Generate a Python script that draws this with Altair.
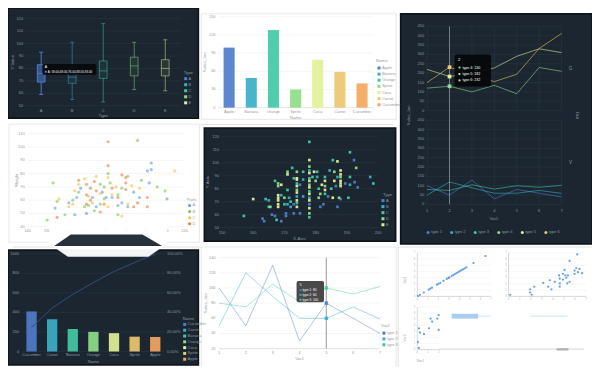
import altair as alt
import pandas as pd

FONT = "Liberation Sans"
DARK_FILL = "#1b2630"
DARK_STROKE = "#0c1217"
DARK_GRID = "#2a3642"
DARK_TEXT = "#8a96a1"
LIGHT_GRID = "#efefef"
LIGHT_TEXT = "#9b9b9b"
CARD_LINE = "#e2e2e2"
PALETTE = ["#4f7ccc", "#3aafc7", "#42c9a4", "#8fdc88", "#e3f097", "#ebc76f", "#f4a65e"]
PART_COLORS = ["#5b9be0", "#78c850", "#f4c048", "#ec7a3e"]

# ---------------- data ----------------
box_types = ["A", "B", "C", "D", "E"]
box_min = [59, 55, 53, 63, 62]
box_q1 = [69, 68, 72, 74, 74]
box_med = [76, 73, 78, 82, 80]
box_q3 = [83, 80, 86, 89, 87]
box_max = [93, 101, 116, 101, 103]

names = ["Apple", "Banana", "Orange", "Sprite", "Coca", "Carrot", "Cucumber"]
sales_jan = [99, 49, 128, 30, 79, 59, 40]

pareto_names = ["Cucumber", "Carrot", "Banana", "Orange", "Coca", "Sprite", "Apple"]
pareto_sales = [410, 330, 231, 201, 188, 152, 149]

var1 = [1, 2, 3, 4, 5, 6, 7]
type_1 = [100, 50, 130, 30, 80, 60, 40]
type_2 = [50, 120, 89, 60, 60, 75, 59]
type_3 = [80, 75, 105, 82, 100, 92, 102]
type_4 = [120, 130, 100, 135, 90, 230, 210]
type_5 = [220, 182, 200, 228, 290, 330, 310]
type_6 = [150, 232, 190, 155, 194, 332, 412]
type_names = ["type 1", "type 2", "type 3", "type 4", "type 5", "type 6"]

parts = ["A", "B", "C", "D"]
p4_A_h = [154, 164, 165, 167, 172, 173, 175, 180, 183, 188, 191, 197, 201, 203, 203, 211, 202, 170, 161, 178, 194, 186]
p4_A_w = [54, 49, 62, 69, 69, 62, 55, 62, 62, 58, 55, 62, 82, 88, 83, 61, 73, 50, 58, 66, 66, 56]
p4_B_h = [153, 155, 159, 150, 169, 177, 179, 182, 186, 188, 196, 198, 206, 210, 171, 174, 177, 179, 186, 166, 181, 191, 163]
p4_B_w = [73, 59, 49, 45, 55, 72, 70, 73, 64, 69, 105, 75, 70, 67, 56, 52, 57, 61, 49, 66, 80, 78, 60]
p4_C_h = [156, 161, 164, 169, 172, 177, 181, 181, 183, 188, 191, 197, 215, 163, 173, 166, 175, 193, 185, 171]
p4_C_w = [61, 55, 67, 76, 69, 65, 77, 55, 64, 48, 57, 69, 82, 57, 58, 72, 78, 71, 70, 63]
p4_D_h = [155, 166, 170, 170, 175, 181, 181, 186, 190, 190, 190, 194, 201, 201, 170, 179, 177, 174, 183, 188, 172, 196]
p4_D_w = [47, 75, 72, 64, 67, 104, 86, 62, 77, 73, 68, 55, 62, 55, 57, 57, 51, 74, 69, 79, 60, 58]

p5_A = [(163, 57), (163.5, 55), (167, 59), (169, 55), (170.5, 61), (170.5, 59), (173, 68), (173, 61), (175, 61),
        (175, 83), (178, 68), (181.5, 66), (182.5, 68), (184, 74), (186.5, 82), (187, 66), (188, 72), (189.5, 84),
        (192.3, 102), (192.5, 85), (193.5, 81), (166, 60)]
p5_B = [(165, 71), (169, 75), (171, 68), (171.5, 73), (172, 66), (174, 74), (176, 87), (176, 74), (178, 94),
        (178, 73), (180.5, 89), (184.5, 94), (187, 89), (191, 83), (197.5, 89)]
p5_C = [(157, 59), (164, 72), (165, 66), (167, 86), (167.5, 56), (170, 68), (171, 79), (172, 70), (172.5, 96),
        (173, 88), (174, 84), (174, 69), (176, 93), (178, 116), (178, 88), (178, 78), (178, 58), (179, 89),
        (180.5, 93), (181, 80), (183, 89), (183, 76), (185, 80), (185.5, 102), (190.5, 73), (191, 89), (191, 108),
        (198.5, 84)]
p5_D = [(165.5, 66), (168, 84), (168, 82), (170, 73), (171, 93), (174, 93), (174, 79), (178, 97), (178, 83),
        (178, 61), (180, 86), (181, 73), (181.5, 76), (183, 82), (186, 93), (187.5, 73), (188, 89), (193, 96)]
p5_E = [(160, 72), (168, 75), (168, 73), (168, 71), (168, 68), (168, 66), (171, 91), (174, 88), (174, 87),
        (174, 82), (174, 77), (174, 71), (174, 66), (178, 102), (178, 92), (178, 86), (178, 81), (178, 76),
        (178, 71), (178, 65), (179.5, 93), (182, 83), (183, 86), (183, 79), (185.5, 73), (186, 86), (187, 101),
        (188, 94), (188, 91), (188, 86), (188, 84), (188, 82), (169, 83)]

tl_v = [0.06, 0.25, 0.62, 1.09, 1.24, 1.40, 1.87, 2.02, 2.18, 2.49, 2.80, 2.96, 3.05, 3.27, 3.42, 3.58, 3.73,
        3.89, 4.04, 4.20, 4.35, 4.51, 4.67, 5.35, 6.47]
tr_x = [0.15, 1.94, 1.94, 2.09, 2.32, 3.13, 3.57, 3.72, 3.87, 4.17, 4.56, 4.62, 4.62, 4.62, 4.91, 4.91, 5.06,
        5.12, 5.21, 5.30, 5.36, 5.51, 5.51, 5.96, 5.96, 6.11, 6.20, 6.26, 6.40, 6.64]
tr_y = [0.26, 1.14, 0.62, 0.26, 1.56, 2.18, 1.56, 2.59, 1.14, 2.33, 3.37, 2.85, 2.07, 1.56, 3.63, 2.70, 4.25,
        3.37, 3.01, 2.07, 3.37, 5.70, 2.33, 4.15, 3.63, 4.56, 6.74, 3.89, 4.41, 3.73]
bl_x = [0.15, 0.06, 0.15, 0.25, 0.62, 1.08, 1.23, 1.38, 1.85, 1.98, 1.98]
bl_y = [0.27, 1.24, 3.5, 2.8, 2.53, 3.5, 5.1, 4.58, 5.1, 5.65, 3.23]

# ---------------- layout mapping (collage coords -> chart px) ----------------
W, H = 584, 359
SX, SY = W / 595.0, H / 371.0


def mx(x):
    return (x - 3) * SX


def my(y):
    return (y - 4) * SY


ONE = pd.DataFrame({"k": [0]})
L = []


def R(x0, y0, x1, y1, **mk):
    L.append(alt.Chart(ONE).mark_rect(**mk).encode(
        x=alt.value(mx(x0)), x2=alt.value(mx(x1)), y=alt.value(my(y0)), y2=alt.value(my(y1))))


def HL(x0, x1, y, color, w=1.0):
    L.append(alt.Chart(ONE).mark_rule(color=color, strokeWidth=w).encode(
        x=alt.value(mx(x0)), x2=alt.value(mx(x1)), y=alt.value(my(y))))


def VL(x, y0, y1, color, w=1.0):
    L.append(alt.Chart(ONE).mark_rule(color=color, strokeWidth=w).encode(
        x=alt.value(mx(x)), y=alt.value(my(y0)), y2=alt.value(my(y1))))


def T(s, x, y, color, size=4.0, angle=0, align="center", weight="normal"):
    L.append(alt.Chart(ONE).mark_text(text=s, fontSize=size, color=color, angle=angle, align=align,
                                      baseline="middle", font=FONT, fontWeight=weight).encode(
        x=alt.value(mx(x)), y=alt.value(my(y))))


def DOT(x, y, color, size=4, shape="circle"):
    L.append(alt.Chart(ONE).mark_point(filled=True, color=color, size=size, shape=shape, opacity=1).encode(
        x=alt.value(mx(x)), y=alt.value(my(y))))


def qx(domain, x0, x1):
    return alt.Scale(domain=domain, range=[mx(x0), mx(x1)], nice=False, zero=False)


def qy(domain, ybottom, ytop):
    return alt.Scale(domain=domain, range=[my(ybottom), my(ytop)], nice=False, zero=False)


def bx(domain, x0, x1, pi, po):
    return alt.Scale(type="band", domain=domain, range=[mx(x0), mx(x1)], paddingInner=pi, paddingOuter=po)


def ygrid(vals, sc, x0, x1, color, w=0.6):
    L.append(alt.Chart(pd.DataFrame({"v": vals})).mark_rule(color=color, strokeWidth=w).encode(
        y=alt.Y("v:Q", scale=sc, axis=None), x=alt.value(mx(x0)), x2=alt.value(mx(x1))))


def xgrid(vals, sc, y0, y1, color, w=0.6):
    L.append(alt.Chart(pd.DataFrame({"v": vals})).mark_rule(color=color, strokeWidth=w).encode(
        x=alt.X("v:Q", scale=sc, axis=None), y=alt.value(my(y0)), y2=alt.value(my(y1))))


def ylabels(vals, sc, xr, color, size=4.0, labels=None, align="right"):
    labels = labels or [str(v) for v in vals]
    L.append(alt.Chart(pd.DataFrame({"v": vals, "t": labels})).mark_text(
        align=align, baseline="middle", fontSize=size, color=color, font=FONT).encode(
        y=alt.Y("v:Q", scale=sc, axis=None), x=alt.value(mx(xr)), text="t:N"))


def xlabels(vals, sc, y, color, size=4.0, typ="Q", labels=None):
    labels = labels or [str(v) for v in vals]
    L.append(alt.Chart(pd.DataFrame({"v": vals, "t": labels})).mark_text(
        align="center", baseline="middle", fontSize=size, color=color, font=FONT).encode(
        x=alt.X(f"v:{typ}", scale=sc, axis=None), y=alt.value(my(y)), text="t:N"))


def vlegend(cats, colors, title, tx, ty, sx, y0, y1, tcol, shape="square", size=9):
    if title:
        T(title, tx, ty, tcol, size=4.3, align="left")
    sc = alt.Scale(type="point", domain=cats, range=[my(y0), my(y1)], padding=0)
    d = pd.DataFrame({"c": cats})
    L.append(alt.Chart(d).mark_point(filled=True, shape=shape, size=size, opacity=1).encode(
        y=alt.Y("c:N", scale=sc, axis=None), x=alt.value(mx(sx)),
        color=alt.Color("c:N", scale=alt.Scale(domain=cats, range=colors), legend=None)))
    L.append(alt.Chart(d).mark_text(align="left", baseline="middle", fontSize=4, color=tcol, font=FONT).encode(
        y=alt.Y("c:N", scale=sc, axis=None), x=alt.value(mx(sx + 3)), text="c:N"))


def long_lines(series, keys):
    rows = []
    for k, vals in zip(keys, series):
        for v, val in zip(var1, vals):
            rows.append({"v": v, "val": val, "tp": k})
    return pd.DataFrame(rows)


# =============== cards ===============
R(3, 4, 197, 118, fill=DARK_FILL, stroke=DARK_STROKE, strokeWidth=1.5)          # P1
R(200, 10, 398.5, 119, fill="white", stroke=CARD_LINE, strokeWidth=0.8)         # P2
R(403, 10, 598, 248, fill=DARK_FILL, stroke=DARK_STROKE, strokeWidth=1.5)       # P3
R(4, 124, 198, 246, fill="white", stroke=CARD_LINE, strokeWidth=0.8)            # P4
HL(199, 395, 124.5, CARD_LINE)
R(203, 128, 398, 245, fill=DARK_FILL, stroke=DARK_STROKE, strokeWidth=1.5)      # P5
HL(8, 199, 251, CARD_LINE)
R(3, 254, 197, 373, fill=DARK_FILL, stroke=DARK_STROKE, strokeWidth=1.5)        # P6
R(200, 251, 398.5, 380, fill="white", stroke=CARD_LINE, strokeWidth=0.8)        # P7
HL(400, 600, 251, CARD_LINE)                                                    # P8
VL(400.5, 251, 380, CARD_LINE)

# =============== P1: dark box plot ===============
bdf = pd.DataFrame({"bt": box_types, "lo": box_min, "q1": box_q1, "med": box_med, "q3": box_q3, "hi": box_max})
sx1 = bx(box_types, 21, 179, 0.75, 0.375)
sy1 = qy([50, 120], 105, 15)
ticks1 = list(range(50, 121, 10))
ygrid(ticks1, sy1, 21, 179, DARK_GRID)
ylabels(ticks1, sy1, 18.5, DARK_TEXT)
xlabels(box_types, sx1, 110.5, DARK_TEXT, typ="N")
T("Type", 100, 116, DARK_TEXT, size=4.3)
T("Y-Value", 8, 60, DARK_TEXT, size=4.3, angle=270)
bsc = alt.Scale(domain=box_types, range=PALETTE[:5])
hl = alt.condition(alt.datum.bt == "A", alt.value(0.95), alt.value(0.5))
for a, b in [("lo", "q1"), ("q3", "hi")]:
    L.append(alt.Chart(bdf).mark_rule(strokeWidth=1).encode(
        x=alt.X("bt:N", scale=sx1, axis=None), y=alt.Y(f"{a}:Q", scale=sy1, axis=None), y2=f"{b}:Q",
        stroke=alt.Stroke("bt:N", scale=bsc, legend=None), strokeOpacity=hl))
for f in ["lo", "hi"]:
    L.append(alt.Chart(bdf).mark_tick(size=4, thickness=1).encode(
        x=alt.X("bt:N", scale=sx1, axis=None), y=alt.Y(f"{f}:Q", scale=sy1, axis=None),
        color=alt.Color("bt:N", scale=bsc, legend=None), opacity=hl))
L.append(alt.Chart(bdf).mark_rect(strokeWidth=1).encode(
    x=alt.X("bt:N", scale=sx1, axis=None), y=alt.Y("q1:Q", scale=sy1, axis=None), y2="q3:Q",
    fill=alt.Fill("bt:N", scale=bsc, legend=None), stroke=alt.Stroke("bt:N", scale=bsc, legend=None),
    fillOpacity=alt.condition(alt.datum.bt == "A", alt.value(0.55), alt.value(0.08)), strokeOpacity=hl))
L.append(alt.Chart(bdf).mark_tick(size=8, thickness=1).encode(
    x=alt.X("bt:N", scale=sx1, axis=None), y=alt.Y("med:Q", scale=sy1, axis=None),
    color=alt.Color("bt:N", scale=bsc, legend=None), opacity=hl))
vlegend(box_types, PALETTE[:5], "Type", 182, 71, 184, 77, 102, DARK_TEXT)
tipA = "A:  " + ",".join(f"{v:.2f}" for v in [box_min[0], box_q1[0], box_med[0], box_q3[0], box_max[0]])
R(38, 62, 93, 73, fill="#07090c", opacity=0.93, cornerRadius=1.5)
T("A", 40.5, 65, "white", size=3.5, align="left")
DOT(41.5, 69.8, PALETTE[0], size=4, shape="square")
T(tipA, 43.5, 69.8, "white", size=3, align="left")

# =============== P2: light bar chart ===============
sx2 = bx(names, 217, 375, 0.5, 0.25)
sy2 = qy([0, 150], 107, 13)
ticks2 = [0, 30, 60, 90, 120, 150]
ygrid(ticks2, sy2, 217, 375, LIGHT_GRID)
HL(217, 375, 107, "#e4e4e4", 0.8)
bar_df = pd.DataFrame({"nm": names, "sales": sales_jan})
L.append(alt.Chart(bar_df).mark_bar(opacity=0.92).encode(
    x=alt.X("nm:N", scale=sx2, axis=None), y=alt.Y("sales:Q", scale=sy2, axis=None),
    color=alt.Color("nm:N", scale=alt.Scale(domain=names, range=PALETTE), legend=None)))
ylabels(ticks2, sy2, 214.5, LIGHT_TEXT)
xlabels(names, sx2, 111.5, LIGHT_TEXT, typ="N")
T("Name", 296, 118, LIGHT_TEXT, size=4.3)
T("Sales_Jan", 204, 60, LIGHT_TEXT, size=4.3, angle=270)
vlegend(names, PALETTE, "Name", 378, 59, 381, 66, 104, LIGHT_TEXT)

# =============== P3: dark faceted lines ===============
sx3 = qx([1, 7], 430, 567)
sy3t = qy([0, 450], 110, 23)
sy3b = qy([0, 450], 207, 120)
ticks3 = list(range(0, 451, 50))
for sc, (ya, yb) in [(sy3t, (23, 110)), (sy3b, (120, 207))]:
    ygrid(ticks3, sc, 430, 567, DARK_GRID)
    xgrid(var1, sx3, ya, yb, DARK_GRID)
    ylabels(ticks3, sc, 427, DARK_TEXT)
xlabels(var1, sx3, 214, DARK_TEXT)
T("Var1", 498, 222, DARK_TEXT, size=4.3)
T("Sales_Jan", 412, 115, DARK_TEXT, size=4.3, angle=270)
T("G", 576, 67, DARK_TEXT, size=4.5)
T("V", 576, 164, DARK_TEXT, size=4.5)
T("Unit", 583, 115, DARK_TEXT, size=4.2, angle=90)
tsc = alt.Scale(domain=type_names, range=PALETTE[:6])
top3 = long_lines([type_4, type_5, type_6], type_names[3:])
bot3 = long_lines([type_1, type_2, type_3], type_names[:3])
for d, sc in [(top3, sy3t), (bot3, sy3b)]:
    L.append(alt.Chart(d).mark_line(strokeWidth=1, opacity=0.58).encode(
        x=alt.X("v:Q", scale=sx3, axis=None), y=alt.Y("val:Q", scale=sc, axis=None),
        stroke=alt.Stroke("tp:N", scale=tsc, legend=None)))
L.append(alt.Chart(pd.DataFrame({"v": [2]})).mark_rule(color="#8b959d", strokeWidth=0.8).encode(
    x=alt.X("v:Q", scale=sx3, axis=None), y=alt.value(my(23)), y2=alt.value(my(207))))
L.append(alt.Chart(top3[top3["v"] == 2]).mark_point(filled=True, shape="square", size=14, opacity=1).encode(
    x=alt.X("v:Q", scale=sx3, axis=None), y=alt.Y("val:Q", scale=sy3t, axis=None),
    fill=alt.Fill("tp:N", scale=tsc, legend=None)))
leg3 = alt.Scale(type="point", domain=type_names, range=[mx(431), mx(551)], padding=0)
ld = pd.DataFrame({"c": type_names})
L.append(alt.Chart(ld).mark_point(filled=True, shape="circle", size=9, opacity=1).encode(
    x=alt.X("c:N", scale=leg3, axis=None), y=alt.value(my(236)),
    color=alt.Color("c:N", scale=tsc, legend=None)))
L.append(alt.Chart(ld).mark_text(align="left", baseline="middle", fontSize=4, color=DARK_TEXT, font=FONT,
                                 dx=3 * SX).encode(
    x=alt.X("c:N", scale=leg3, axis=None), y=alt.value(my(236)), text="c:N"))
R(458, 52, 495, 85, fill="#06080a", opacity=0.94, cornerRadius=2)
T("2", 461.5, 57.5, "white", size=4, align="left")
for i, (k, vals) in enumerate([(4, type_4), (5, type_5), (6, type_6)]):
    yy = 65.5 + 6.7 * i
    DOT(463, yy, PALETTE[k - 1], size=5)
    T(f"type {k}:  {vals[1]}", 466, yy, "white", size=3.6, align="left")

# =============== P4: light scatter ===============
sx4 = qx([140, 220], 23, 183)
sy4 = qy([40, 110], 230, 134)
ticks4y = list(range(40, 111, 10))
ticks4x = list(range(140, 221, 10))
ygrid(ticks4y, sy4, 23, 183, LIGHT_GRID)
ylabels(ticks4y, sy4, 20, LIGHT_TEXT)
xlabels(ticks4x, sx4, 234.5, LIGHT_TEXT)
T("Weight", 12, 182, LIGHT_TEXT, size=4.3, angle=270)
p4df = pd.concat([
    pd.DataFrame({"h": p4_A_h, "w": p4_A_w, "pt": "A"}),
    pd.DataFrame({"h": p4_B_h, "w": p4_B_w, "pt": "B"}),
    pd.DataFrame({"h": p4_C_h, "w": p4_C_w, "pt": "C"}),
    pd.DataFrame({"h": p4_D_h, "w": p4_D_w, "pt": "D"}),
])
L.append(alt.Chart(p4df).mark_circle(size=10, opacity=0.6).encode(
    x=alt.X("h:Q", scale=sx4, axis=None), y=alt.Y("w:Q", scale=sy4, axis=None),
    color=alt.Color("pt:N", scale=alt.Scale(domain=parts, range=PART_COLORS), legend=None)))
vlegend(parts, PART_COLORS, "Parts", 185, 202, 188, 208, 227, LIGHT_TEXT, shape="circle")

# =============== P5: dark scatter ===============
sx5 = qx([150, 200], 221, 380)
sy5 = qy([50, 120], 231, 137)
ticks5y = list(range(50, 121, 10))
ticks5x = list(range(150, 201, 10))
ygrid(ticks5y, sy5, 221, 380, DARK_GRID)
ylabels(ticks5y, sy5, 218, DARK_TEXT)
xlabels(ticks5x, sx5, 236.5, DARK_TEXT)
T("X-Axis", 300, 243, DARK_TEXT, size=4.3)
T("Y-Axis", 207, 184, DARK_TEXT, size=4.3, angle=270)
p5df = pd.concat([pd.DataFrame({"x": [p[0] for p in pts], "y": [p[1] for p in pts], "ty": t})
                  for t, pts in zip(box_types, [p5_A, p5_B, p5_C, p5_D, p5_E])])
L.append(alt.Chart(p5df).mark_square(size=7, opacity=0.95).encode(
    x=alt.X("x:Q", scale=sx5, axis=None), y=alt.Y("y:Q", scale=sy5, axis=None),
    color=alt.Color("ty:N", scale=alt.Scale(domain=box_types, range=PALETTE[:5]), legend=None)))
vlegend(box_types, PALETTE[:5], "Type", 385, 197, 385, 203, 228, DARK_TEXT)

# =============== P6: dark pareto ===============
sx6 = bx(pareto_names, 17, 163, 0.5, 0.225)
sy6 = qy([0, 1000], 359, 258)
sy6r = qy([0, 1], 359, 258)
ticks6 = [0, 200, 400, 600, 800, 1000]
ygrid(ticks6, sy6, 17, 163, DARK_GRID)
ylabels(ticks6, sy6, 14.5, DARK_TEXT)
pct = [0, 0.2, 0.4, 0.6, 0.8, 1.0]
ylabels(pct, sy6r, 165, DARK_TEXT, labels=[f"{p * 100:.2f}%" for p in pct], align="left")
pdf = pd.DataFrame({"pn": pareto_names, "ps": pareto_sales})
pdf["cum"] = pdf["ps"].cumsum() / pdf["ps"].sum()
L.append(alt.Chart(pdf).mark_bar(opacity=0.92).encode(
    x=alt.X("pn:N", scale=sx6, axis=None), y=alt.Y("ps:Q", scale=sy6, axis=None),
    color=alt.Color("pn:N", scale=alt.Scale(domain=pareto_names, range=PALETTE), legend=None)))
L.append(alt.Chart(pdf).mark_line(color="#2f4e7a", strokeWidth=1).encode(
    x=alt.X("pn:N", scale=sx6, axis=None), y=alt.Y("cum:Q", scale=sy6r, axis=None)))
xlabels(pareto_names, sx6, 363, DARK_TEXT, typ="N")
T("Name", 90, 369.5, DARK_TEXT, size=4.3)
vlegend(pareto_names, PALETTE, "Name", 181, 325, 183, 331, 367, DARK_TEXT)

# =============== P7: light lines ===============
sx7 = qx([1, 7], 218, 382)
sy7 = qy([20, 140], 356, 262)
ticks7 = list(range(20, 141, 20))
ygrid(ticks7, sy7, 218, 382, LIGHT_GRID)
HL(218, 382, 356, "#dddddd", 0.8)
ylabels(ticks7, sy7, 214.5, LIGHT_TEXT)
xlabels(var1, sx7, 360.5, LIGHT_TEXT)
T("Var1", 300, 367, LIGHT_TEXT, size=4.3)
T("Sales_Jan", 205, 309, LIGHT_TEXT, size=4.3, angle=270)
l7 = long_lines([type_1, type_2, type_3], type_names[:3])
tsc3 = alt.Scale(domain=type_names[:3], range=PALETTE[:3])
L.append(alt.Chart(l7).mark_line(strokeWidth=1, opacity=0.45).encode(
    x=alt.X("v:Q", scale=sx7, axis=None), y=alt.Y("val:Q", scale=sy7, axis=None),
    stroke=alt.Stroke("tp:N", scale=tsc3, legend=None)))
L.append(alt.Chart(pd.DataFrame({"v": [5]})).mark_rule(color="#a9a9a9", strokeWidth=1.2).encode(
    x=alt.X("v:Q", scale=sx7, axis=None), y=alt.value(my(262)), y2=alt.value(my(356))))
L.append(alt.Chart(l7[l7["v"] == 5]).mark_point(filled=True, shape="square", size=12, opacity=0.9).encode(
    x=alt.X("v:Q", scale=sx7, axis=None), y=alt.Y("val:Q", scale=sy7, axis=None),
    fill=alt.Fill("tp:N", scale=tsc3, legend=None)))
vlegend(type_names[:3], PALETTE[:3], "Var2", 383, 333, 386, 340, 352, LIGHT_TEXT)
R(297, 286, 325, 308, fill="#3a3a3a", opacity=0.92, cornerRadius=2)
T("5", 300, 290, "white", size=3.6, align="left")
for i, (k, vals) in enumerate([(1, type_1), (2, type_2), (3, type_3)]):
    yy = 295.5 + 5 * i
    DOT(301, yy, PALETTE[k - 1], size=4, shape="square")
    T(f"type {k}:  {vals[4]}", 303, yy, "white", size=3.2, align="left")

# =============== P8: light scatter matrix ===============
s8 = list(range(0, 8))
for (x0, x1, y0, y1, xd, xs, ys) in [(420, 495, 257, 302, [0, 7], tl_v, tl_v),
                                       (513, 592, 257, 302, [0, 7], tr_x, tr_y),
                                       (420, 442, 313, 357, [0, 2], bl_x, bl_y)]:
    sxx = qx(xd, x0, x1)
    syy = qy([0, 7], y1, y0)
    ygrid(s8, syy, x0, x1, "#f1f1f1")
    VL(x0, y0, y1, "#cfcfcf", 0.8)
    HL(x0, x1, y1, "#cfcfcf", 0.8)
    ylabels(s8, syy, x0 - 2, "#b0b0b0", size=2.6)
    xv = list(range(xd[0], xd[1] + 1))
    xlabels(xv, sxx, y1 + 3, "#b0b0b0", size=2.6)
    L.append(alt.Chart(pd.DataFrame({"a": xs, "b": ys})).mark_circle(size=5, color="#4a90e2", opacity=0.85).encode(
        x=alt.X("a:Q", scale=sxx, axis=None), y=alt.Y("b:Q", scale=syy, axis=None)))
HL(442, 590, 356.5, "#d4d4d4")
R(562, 355.5, 574, 358, fill="#b4b4b4")
R(455, 320, 482, 325, fill="#a9cdf2")
HL(482, 495, 322.5, "#cfe3f8")
HL(535, 573, 322.5, "#cfe3f8")
T("Var1", 407, 285, LIGHT_TEXT, size=3.6, angle=270)
T("Var2", 407, 345, LIGHT_TEXT, size=3.6, angle=270)
T("Var1", 423, 369, LIGHT_TEXT, size=3.6)

# =============== glitch blob between P4 and P6 ===============
R(45, 226, 165, 247, fill="white", opacity=0.9)
dark_trap = pd.DataFrame({"y": [my(238), my(250)], "x": [mx(67), mx(50)], "x2": [mx(140), mx(160)]})
L.append(alt.Chart(dark_trap).mark_area(orient="horizontal", color=DARK_FILL, opacity=0.95).encode(
    y=alt.Y("y:Q", scale=None, axis=None), x=alt.X("x:Q", scale=None, axis=None), x2="x2:Q"))
white_trap = pd.DataFrame({"y": [my(250), my(261)], "x": [mx(48), mx(64)], "x2": [mx(162), mx(146)]})
L.append(alt.Chart(white_trap).mark_area(orient="horizontal", color="white", opacity=0.95).encode(
    y=alt.Y("y:Q", scale=None, axis=None), x=alt.X("x:Q", scale=None, axis=None), x2="x2:Q"))

# =============== assemble ===============
chart = alt.layer(*L).resolve_scale(
    x="independent", y="independent", color="independent", fill="independent", stroke="independent"
).properties(width=W, height=H, padding=0, autosize=alt.AutoSizeParams(type="none")).configure_view(strokeWidth=0)

chart.save("out.html", embed_options={"renderer": "svg", "actions": False})
